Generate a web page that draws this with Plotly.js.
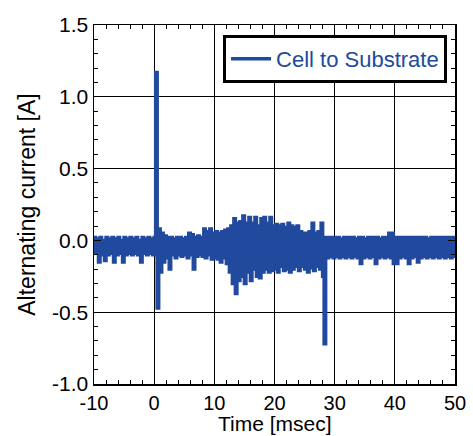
<!DOCTYPE html>
<html>
<head>
<meta charset="utf-8">
<script src="https://cdn.plot.ly/plotly-3.0.1.min.js"></script>
<style>html,body{margin:0;padding:0;background:#fff;}#chart{width:473px;height:436px;}</style>
</head>
<body>
<div id="chart"></div>
<script>
// sampling grid of the recorded signal
var tStart = -10;
var tStep = 0.25;
// Alternating current [A], one value per sample
var current = [
  0.02,-0.09,0.01,-0.15,0.02,-0.10,0.00,-0.14,
  0.02,-0.10,0.01,-0.09,0.02,-0.15,0.01,-0.10,
  0.02,-0.09,0.00,-0.15,0.02,-0.10,0.01,-0.09,
  0.02,-0.10,0.01,-0.09,0.02,-0.10,0.00,-0.15,
  0.02,-0.09,0.01,-0.10,0.02,-0.09,0.01,-0.10,
  0.02,1.17,-0.47,0.08,-0.22,0.05,-0.15,0.03,
  -0.12,0.02,-0.20,0.02,-0.10,0.01,-0.12,0.02,
  -0.10,0.02,-0.11,0.01,-0.10,0.02,-0.12,0.05,
  -0.10,0.04,-0.20,0.02,-0.11,0.03,-0.10,0.02,
  -0.11,0.08,-0.12,0.06,-0.10,0.08,-0.13,0.05,
  -0.12,0.06,-0.13,0.05,-0.15,0.06,-0.12,0.07,
  -0.16,0.08,-0.22,0.10,-0.30,0.15,-0.37,0.12,
  -0.28,0.13,-0.25,0.17,-0.30,0.12,-0.22,0.16,
  -0.28,0.12,-0.20,0.16,-0.25,0.10,-0.26,0.15,
  -0.22,0.16,-0.20,0.12,-0.22,0.16,-0.21,0.10,
  -0.20,0.11,-0.22,0.10,-0.18,0.11,-0.21,0.09,
  -0.20,0.12,-0.22,0.10,-0.20,0.09,-0.18,0.10,
  -0.21,0.06,-0.18,0.05,-0.20,0.05,-0.22,0.06,
  -0.19,0.12,-0.21,0.05,-0.18,0.06,-0.20,0.12,
  -0.25,-0.72,0.02,-0.12,0.02,-0.11,0.02,-0.12,
  0.02,-0.11,0.02,-0.12,0.01,-0.11,0.02,-0.12,
  0.02,-0.11,0.02,-0.12,0.02,-0.11,0.01,-0.12,
  0.02,-0.16,0.02,-0.12,0.01,-0.11,0.02,-0.12,
  0.02,-0.11,0.02,-0.16,0.02,-0.12,0.01,-0.11,
  0.02,-0.12,0.02,-0.11,0.05,-0.12,0.05,-0.16,
  0.02,-0.16,0.02,-0.12,0.02,-0.11,0.02,-0.12,
  0.02,-0.16,0.02,-0.12,0.02,-0.11,0.02,-0.15,
  0.02,-0.12,0.02,-0.11,0.02,-0.12,0.01,-0.11,
  0.02,-0.12,0.02,-0.11,0.02,-0.12,0.02,-0.11,
  0.02,-0.12,0.02,-0.11,0.02,-0.12,0.02,-0.11,
  0.02
];
var seriesName = "Cell to Substrate";
var xTitle = "Time [msec]";
var yTitle = "Alternating current [A]";
var xTickVals = [-10, 0, 10, 20, 30, 40, 50];
var xTickText = ["-10", "0", "10", "20", "30", "40", "50"];
var yTickVals = [-1.0, -0.5, 0.0, 0.5, 1.0, 1.5];
var yTickText = ["-1.0", "-0.5", "0.0", "0.5", "1.0", "1.5"];

var time = current.map(function (v, i) { return tStart + i * tStep; });

var blue = "rgb(33,74,158)";
var fontFam = "Liberation Sans, Arial, sans-serif";

var trace = {
  x: time, y: current, type: "scatter", mode: "lines",
  name: seriesName, line: {color: blue, width: 3.5, shape: "hv"}
};

var axisCommon = {
  showline: true, linecolor: "#000", linewidth: 1.5, mirror: "allticks",
  ticks: "inside", ticklen: 7, tickcolor: "#000", tickwidth: 1,
  showgrid: true, gridcolor: "#000", gridwidth: 1, zeroline: false,
  tickfont: {family: fontFam, size: 21, color: "#000"},
  tickmode: "array", automargin: false
};

var layout = {
  width: 473, height: 436,
  margin: {l: 94, r: 18, t: 25, b: 52},
  paper_bgcolor: "#fff", plot_bgcolor: "#fff",
  font: {family: fontFam, color: "#000"},
  showlegend: true,
  legend: {
    x: 0.978, y: 0.972, xanchor: "right", yanchor: "top",
    bordercolor: "#000", borderwidth: 3, bgcolor: "#fff",
    font: {family: fontFam, size: 22, color: blue},
    itemwidth: 40, tracegroupgap: 0
  },
  xaxis: Object.assign({}, axisCommon, {
    range: [-10, 50], tickvals: xTickVals, ticktext: xTickText,
    tickfont: {family: fontFam, size: 20, color: "#000"},
    minor: {dtick: 2, ticks: "inside", ticklen: 4, tickcolor: "#000", showgrid: false}
  }),
  yaxis: Object.assign({}, axisCommon, {
    range: [-1.0, 1.5], tickvals: yTickVals, ticktext: yTickText,
    minor: {dtick: 0.1, ticks: "inside", ticklen: 4, tickcolor: "#000", showgrid: false},
    title: {text: yTitle, font: {family: fontFam, size: 23, color: "#000"}, standoff: 10}
  }),
  annotations: [{
    text: xTitle, xref: "paper", yref: "paper", x: 0.5, y: -0.146,
    xanchor: "center", yanchor: "bottom", showarrow: false, borderpad: 0,
    font: {family: fontFam, size: 21, color: "#000"}
  }]
};

Plotly.newPlot("chart", [trace], layout, {displayModeBar: false, staticPlot: true});
</script>
</body>
</html>
